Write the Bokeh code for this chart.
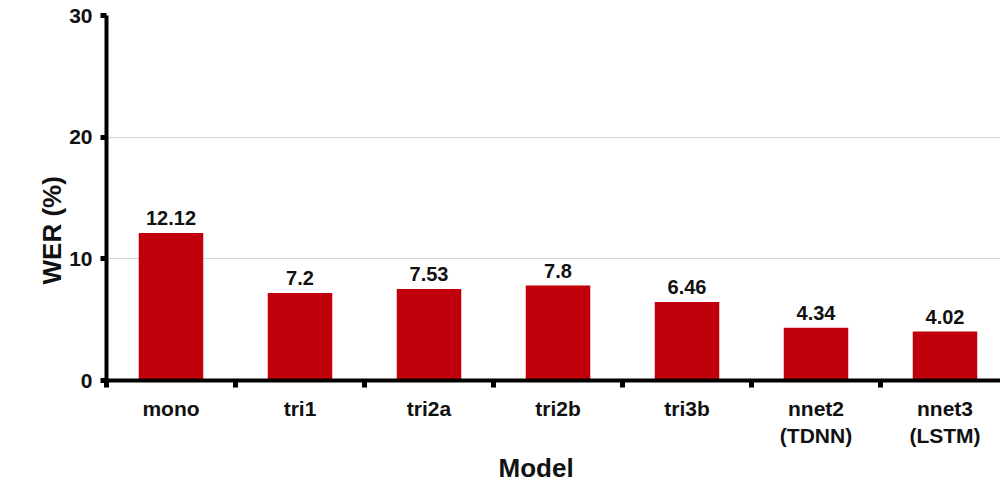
from bokeh.plotting import figure
from bokeh.models import (Range1d, FixedTicker, LabelSet, ColumnDataSource, Title,
                          LinearAxis)
from bokeh.core.properties import value
from bokeh.embed import file_html
from bokeh.resources import INLINE

# Word error rate per acoustic model
models = ["mono", "tri1", "tri2a", "tri2b", "tri3b", "nnet2\n(TDNN)", "nnet3\n(LSTM)"]
wer = [12.12, 7.2, 7.53, 7.8, 6.46, 4.34, 4.02]
y_ticks = [0, 10, 20, 30]

FONT = "Liberation Sans"
BAR_COLOR = "#C0000B"
TEXT_COLOR = "#111111"

centers = [i + 0.5 for i in range(len(models))]
boundaries = list(range(len(models) + 1))

source = ColumnDataSource(dict(x=centers, wer=wer, label=[str(v) for v in wer]))

p = figure(
    width=1000, height=500,
    x_range=Range1d(0, 894 / 129), y_range=Range1d(0, 30),
    output_backend="svg", toolbar_location=None,
    min_border_left=106, min_border_right=0, min_border_top=15, min_border_bottom=120,
)
p.outline_line_color = None
p.background_fill_color = "white"

p.vbar(x="x", top="wer", width=0.5, bottom=0, source=source,
       fill_color=BAR_COLOR, line_color=None)

p.add_layout(LabelSet(x="x", y="wer", text="label", source=source,
                      y_offset=8, text_align="center", text_baseline="bottom",
                      text_font=value(FONT), text_font_style="bold",
                      text_font_size="20px", text_color=TEXT_COLOR))

# y axis
p.yaxis.ticker = FixedTicker(ticks=y_ticks)
p.yaxis.axis_line_width = 4
p.yaxis.axis_line_color = "black"
p.yaxis.major_tick_out = 6
p.yaxis.major_tick_in = 0
p.yaxis.major_tick_line_width = 5
p.yaxis.minor_tick_line_color = None
p.yaxis.major_label_standoff = 8
p.yaxis.axis_label_standoff = 0
p.yaxis.major_label_text_font = FONT
p.yaxis.major_label_text_font_style = "bold"
p.yaxis.major_label_text_font_size = "21px"
p.yaxis.major_label_text_color = TEXT_COLOR

# x axis: labels at bar centres, ticks on category boundaries
p.xaxis.ticker = FixedTicker(ticks=centers, minor_ticks=boundaries)
p.xaxis.major_label_overrides = {c: m for c, m in zip(centers, models)}
p.xaxis.axis_line_width = 4
p.xaxis.axis_line_color = "black"
p.xaxis.major_tick_out = 0
p.xaxis.major_tick_in = 0
p.xaxis.minor_tick_out = 7
p.xaxis.minor_tick_in = 0
p.xaxis.minor_tick_line_width = 5
p.xaxis.minor_tick_line_color = "black"
p.xaxis.major_label_standoff = 9
p.xaxis.axis_label_standoff = 0
p.xaxis.major_label_text_font = FONT
p.xaxis.major_label_text_font_style = "bold"
p.xaxis.major_label_text_font_size = "21px"
p.xaxis.major_label_text_color = TEXT_COLOR

p.xgrid.visible = False
p.ygrid.ticker = FixedTicker(ticks=y_ticks)
p.ygrid.grid_line_color = "#d4d4d4"
p.ygrid.grid_line_width = 1


def spacer(px):
    """Tickless axis panel that only reserves space between an axis and its title."""
    return LinearAxis(ticker=FixedTicker(ticks=[]), major_tick_out=px, major_tick_in=0,
                      major_label_standoff=0, axis_line_color=None,
                      major_tick_line_color="white", minor_tick_line_color=None)


# axis titles, each pushed out from its axis by a spacer panel
p.add_layout(spacer(17), "below")
p.add_layout(Title(text="Model", align="left", offset=392, standoff=0,
                   text_font=FONT, text_font_style="bold",
                   text_font_size="26px", text_color=TEXT_COLOR), "below")
p.add_layout(spacer(34), "left")
p.add_layout(Title(text="WER (%)", align="left", offset=96, standoff=0,
                   text_font=FONT, text_font_style="bold",
                   text_font_size="26px", text_color=TEXT_COLOR), "left")

open("out.html", "w").write(file_html(p, INLINE))
